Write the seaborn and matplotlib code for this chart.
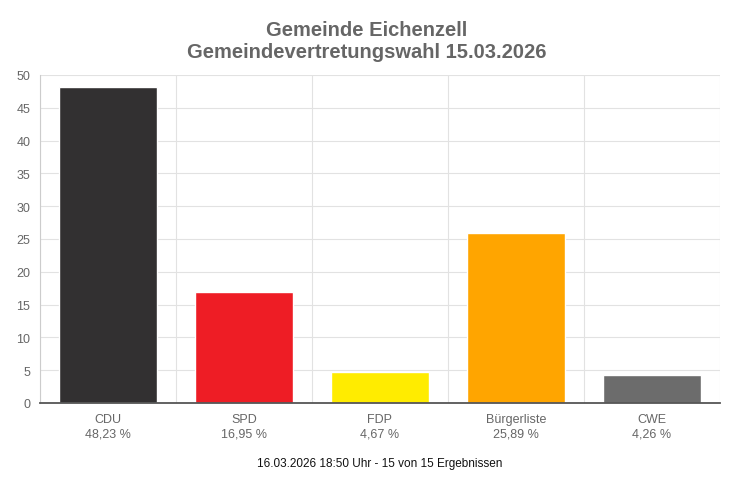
import numpy as np
import pandas as pd
import matplotlib
matplotlib.use("Agg")
import matplotlib.pyplot as plt
import seaborn as sns

# Wahlergebnis Eichenzell
parties = ["CDU", "SPD", "FDP", "Bürgerliste", "CWE"]
shares = [48.23, 16.95, 4.67, 25.89, 4.26]
share_labels = ["48,23 %", "16,95 %", "4,67 %", "25,89 %", "4,26 %"]
colors = ["#323031", "#ee1d25", "#ffec00", "#ffa500", "#6c6c6c"]
y_ticks = [0, 5, 10, 15, 20, 25, 30, 35, 40, 45, 50]

df = pd.DataFrame({"party": parties, "share": shares})

sns.set_style("white")
plt.rcParams["font.family"] = ["Liberation Sans", "DejaVu Sans"]

fig = plt.figure(figsize=(7.34, 4.85), dpi=100)
ax = fig.add_axes([40 / 734, 1 - 404 / 485, 680 / 734, 328 / 485])

sns.barplot(data=df, x="party", y="share", hue="party", palette=colors,
            width=0.72, saturation=1, legend=False, ax=ax, zorder=3)

ax.set_ylim(0, 50)
ax.set_xlim(-0.5, len(parties) - 0.5)
ax.set_yticks(y_ticks)
ax.set_yticklabels([str(t) for t in y_ticks], color="#666666", fontsize=9)

ax.set_xticks(range(len(parties)))
ax.set_xticklabels([f"{p}\n{s}" for p, s in zip(parties, share_labels)],
                   color="#666666", fontsize=9, linespacing=1.3)
ax.tick_params(axis="x", length=0, pad=7)
ax.tick_params(axis="y", length=0, pad=7)

# Kategoriegrenzen als Gitterlinien (ragen etwas unter die Achse)
bounds = np.arange(-0.5, len(parties), 1.0)
ax.set_xticks(bounds, minor=True)
ax.tick_params(axis="x", which="minor", length=7, color="#dddddd", width=0.8)
ax.grid(True, which="minor", axis="x", color="#e2e2e2", linewidth=0.8, zorder=0)
ax.grid(True, which="major", axis="y", color="#e2e2e2", linewidth=0.8, zorder=0)
ax.grid(False, which="major", axis="x")

ax.set_xlabel("")
ax.set_ylabel("")
for side in ["top", "right"]:
    ax.spines[side].set_visible(False)
ax.spines["left"].set_color("#cccccc")
ax.spines["left"].set_linewidth(0.8)
ax.spines["bottom"].set_color("#555555")
ax.spines["bottom"].set_linewidth(1.3)
ax.spines["bottom"].set_zorder(4)

fig.text(0.5, 1 - 30 / 485, "Gemeinde Eichenzell", ha="center", va="center",
         fontsize=14.5, fontweight="bold", color="#666666")
fig.text(0.5, 1 - 53 / 485, "Gemeindevertretungswahl 15.03.2026", ha="center",
         va="center", fontsize=14.5, fontweight="bold", color="#666666")
fig.text(380 / 734, 1 - 464 / 485, "16.03.2026 18:50 Uhr - 15 von 15 Ergebnissen",
         ha="center", va="center", fontsize=8.5, color="#111111")

fig.savefig("out.png", dpi=100, facecolor="white")
